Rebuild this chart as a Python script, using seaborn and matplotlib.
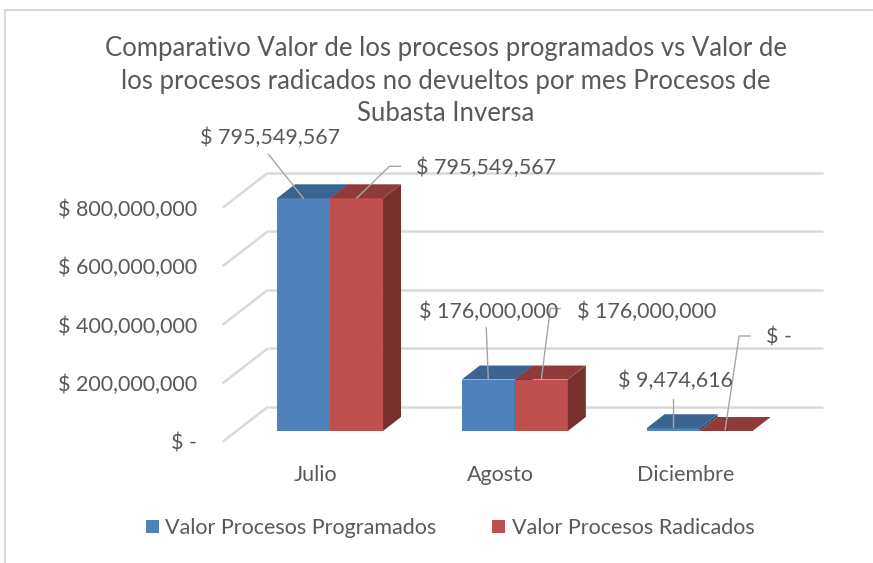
import numpy as np
import pandas as pd
import matplotlib
matplotlib.use("Agg")
import matplotlib.pyplot as plt
import matplotlib.transforms as mtransforms
from matplotlib.patches import Polygon, Rectangle
from matplotlib.lines import Line2D
import seaborn as sns

# ---------------- data ----------------
meses = ["Julio", "Agosto", "Diciembre"]
series = ["Valor Procesos Programados", "Valor Procesos Radicados"]
valor_programados = [795549567, 176000000, 9474616]
valor_radicados = [795549567, 176000000, 0]
y_ticks = [0, 200_000_000, 400_000_000, 600_000_000, 800_000_000]
titulo = ("Comparativo Valor de los procesos programados vs Valor de\n"
          "los procesos radicados no devueltos por mes Procesos de\n"
          "Subasta Inversa")

# ---------------- style ----------------
front_colors = ["#4F81BD", "#C0504D"]
top_colors = ["#3C6491", "#8E3B39"]
side_colors = ["#2E4D73", "#77302E"]
grid_color = "#D9D9D9"
text_color = "#595959"
leader_color = "#A6A6A6"
FS = 15.5

# label layout (pixels, relative to bar front-top centre; y down)
# (text dx, text dy, ha, leader vertices)
label_layout = {
    (0, 0): (-33, -60, "center", [(0, 0), (-35, -44)]),
    (1, 0): (59, -30, "left", [(0, 0), (33, -32), (44, -32)]),
    (0, 1): (0, -68, "center", [(0, 0), (-2, -52)]),
    (1, 1): (36, -68, "left", [(0, 0), (9, -71), (19, -71)]),
    (0, 2): (2, -47, "center", [(0, -1), (0, -29)]),
    (1, 2): (40, -93, "left", [(-1, -1), (13, -95), (24, -95)]),
}

df = pd.DataFrame({
    "Mes": meses + meses,
    "Serie": [series[0]] * len(meses) + [series[1]] * len(meses),
    "Valor": valor_programados + valor_radicados,
})

sns.set_theme(style="white")
plt.rcParams["font.family"] = ["Lato", "DejaVu Sans"]

W, H = 873, 563
fig = plt.figure(figsize=(W / 100, H / 100), dpi=100)
fig.patch.set_facecolor("white")

# axes box in image pixels
L, R, T, B = 200, 840, 150, 450
ax = fig.add_axes([L / W, 1 - B / H, (R - L) / W, (B - T) / H])

sns.barplot(data=df, x="Mes", y="Valor", hue="Serie", hue_order=series,
            order=meses, palette=front_colors, width=0.574, gap=0,
            dodge=True, saturation=1, legend=False, linewidth=0, ax=ax)

# scales
cat_px = 184.8                 # pixels per category
base_img_y = 431               # image y of bar bottom (front plane)
first_cat_img_x = 330
ppv = 234 / 800_000_000        # pixels per value unit
ax.set_xlim(-(first_cat_img_x - L) / cat_px, -(first_cat_img_x - L) / cat_px + (R - L) / cat_px)
ax.set_ylim(-(B - base_img_y) / ppv, (base_img_y - T) / ppv)

# bar depth (pixels)
bdx, bdy = 18, 14
ddx, ddy = bdx / cat_px, bdy / ppv

# wall geometry (pixels relative to bar front plane)
wall_back_dy = 24.3
wall_front_dy = -10.7
grid_x0 = (268 - first_cat_img_x) / cat_px
grid_x1 = (823 - first_cat_img_x) / cat_px
diag_x0 = (222.7 - first_cat_img_x) / cat_px
for v in y_ticks:
    yb = v + wall_back_dy / ppv
    yf = v + wall_front_dy / ppv
    ax.plot([grid_x0, grid_x1], [yb, yb], color=grid_color, lw=1.8, zorder=0.5,
            solid_capstyle="butt")
    ax.plot([diag_x0, grid_x0], [yf, yb], color=grid_color, lw=1.8, zorder=0.5,
            solid_capstyle="butt")

# 3D faces
nb = len(meses)
patches = list(ax.patches)
for s in range(len(series)):
    for c in range(nb):
        p = patches[s * nb + c]
        x, w, h = p.get_x(), p.get_width(), p.get_height()
        z = 2 + c * 2 + s
        p.set_zorder(z)
        side = Polygon([(x + w, 0), (x + w + ddx, ddy), (x + w + ddx, h + ddy), (x + w, h)],
                       closed=True, fc=side_colors[s], ec="none", zorder=z)
        top = Polygon([(x, h), (x + w, h), (x + w + ddx, h + ddy), (x + ddx, h + ddy)],
                      closed=True, fc=top_colors[s], ec="none", zorder=z)
        ax.add_patch(side)
        ax.add_patch(top)

# axes styling
for sp in ax.spines.values():
    sp.set_visible(False)
ax.grid(False)
ax.set_xlabel("")
ax.set_ylabel("")
ax.set_yticks(y_ticks)
ax.set_yticklabels(["$ -" if v == 0 else f"$ {v:,.0f}" for v in y_ticks])
ax.tick_params(axis="both", length=0, labelsize=FS, labelcolor=text_color)
ax.tick_params(axis="y", pad=2)
ax.tick_params(axis="x", pad=10)
for lbl in ax.get_yticklabels():
    lbl.set_transform(lbl.get_transform() +
                      mtransforms.ScaledTranslation(0, wall_front_dy / 100, fig.dpi_scale_trans))
for lbl in ax.get_xticklabels():
    lbl.set_va("center")
    lbl.set_transform(lbl.get_transform() +
                      mtransforms.ScaledTranslation(-14 / 100, -11 / 100, fig.dpi_scale_trans))

# data labels with leader lines
fig.canvas.draw()
to_px = mtransforms.Affine2D().scale(1 / W, 1 / H) + fig.transFigure
for s in range(len(series)):
    for c in range(nb):
        p = patches[s * nb + c]
        x, w, h = p.get_x(), p.get_width(), p.get_height()
        disp = ax.transData.transform((x + w / 2, h))
        fx, fy = fig.transFigure.inverted().transform(disp) * np.array([W, H])
        tdx, tdy, ha, verts = label_layout[(s, c)]
        xs = [fx + vx for vx, vy in verts]
        ys = [fy - vy for vx, vy in verts]
        fig.add_artist(Line2D(xs, ys, color=leader_color, lw=1.0, transform=to_px, zorder=20))
        val = df["Valor"][s * nb + c]
        txt = "$ -" if val == 0 else f"$ {val:,.0f}"
        fig.text((fx + tdx) / W, (fy - tdy) / H, txt, ha=ha, va="center",
                 fontsize=FS, color=text_color, zorder=21)

# title
fig.text(446 / W, 1 - 81 / H, titulo, ha="center", va="center", fontsize=18.5,
         color=text_color, linespacing=1.36)

# legend
handles = [Rectangle((0, 0), 1, 1, fc=c, ec="none") for c in front_colors]
fig.legend(handles=handles, labels=series, loc="center",
           bbox_to_anchor=(450 / W, 1 - 528 / H), ncol=2, frameon=False,
           handlelength=0.6, handleheight=0.6, handletextpad=0.3,
           columnspacing=2.6, fontsize=FS, labelcolor=text_color)

# chart border (top and left)
fig.add_artist(Line2D([5, W], [H - 10, H - 10], color=grid_color, lw=1.5, transform=to_px))
fig.add_artist(Line2D([5, 5], [0, H - 10], color=grid_color, lw=1.5, transform=to_px))

fig.savefig("out.png", dpi=100, facecolor="white")
